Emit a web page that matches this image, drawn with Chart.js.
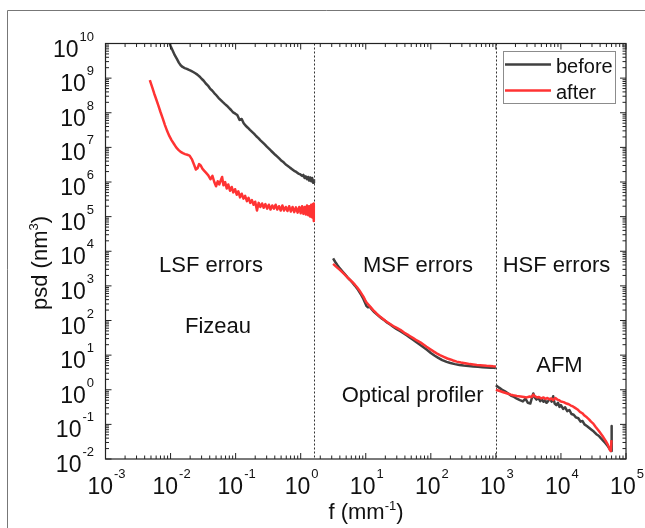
<!DOCTYPE html>
<html>
<head>
<meta charset="utf-8">
<script src="https://cdn.jsdelivr.net/npm/chart.js@4/dist/chart.umd.min.js"></script>
<style>
  html, body { margin: 0; padding: 0; background: #ffffff; }
  canvas { display: block; }
</style>
</head>
<body>
<canvas id="psd" width="645" height="528"></canvas>
<script>
// Decade exponents shown on each axis
const xTickPowers = [-3, -2, -1, 0, 1, 2, 3, 4, 5];
const yTickPowers = [-2, -1, 0, 1, 2, 3, 4, 5, 6, 7, 8, 9, 10];

// Instrument band boundaries (mm^-1)
const bandEdges = [1.6, 1000];

const seriesLabels = ['before', 'after'];

// Fizeau range (LSF)
const beforeLsfF = [0.0094, 0.0100, 0.0108, 0.0116, 0.0125, 0.0134, 0.0143, 0.0153, 0.0165, 0.0178,
  0.0192, 0.0207, 0.0223, 0.0240, 0.0258, 0.0278, 0.0300, 0.0323, 0.0348, 0.0375,
  0.0404, 0.0435, 0.0469, 0.0505, 0.0544, 0.0586, 0.0631, 0.0680, 0.0733, 0.0790,
  0.0851, 0.0917, 0.0988, 0.106, 0.115, 0.124, 0.133, 0.143, 0.154, 0.166,
  0.179, 0.193, 0.208, 0.224, 0.241, 0.260, 0.280, 0.302, 0.325, 0.350,
  0.377, 0.406, 0.437, 0.471, 0.508, 0.547, 0.589, 0.635, 0.684, 0.737,
  0.794, 0.855, 0.92, 0.99, 1.05, 1.1, 1.15, 1.2, 1.25, 1.3,
  1.35, 1.4, 1.45, 1.5, 1.55, 1.6];
const beforeLsfPsd = [1.2e10, 8.5e9, 6.2e9, 4.6e9, 3.6e9, 2.8e9, 2.35e9, 2.1e9, 1.95e9, 1.85e9,
  1.72e9, 1.62e9, 1.5e9, 1.38e9, 1.26e9, 1.12e9, 9.6e8, 8.4e8, 7.0e8, 6.1e8,
  5.0e8, 4.4e8, 3.7e8, 3.2e8, 2.7e8, 2.35e8, 2.05e8, 1.8e8, 1.6e8, 1.38e8,
  1.2e8, 1.02e8, 9.4e7, 8.6e7, 6.2e7, 6.6e7, 5.0e7, 4.2e7, 3.7e7, 3.2e7,
  2.8e7, 2.45e7, 2.1e7, 1.85e7, 1.6e7, 1.4e7, 1.22e7, 1.05e7, 9.2e6, 8.0e6,
  7.0e6, 6.1e6, 5.4e6, 4.7e6, 4.1e6, 3.7e6, 3.2e6, 2.9e6, 2.6e6, 2.35e6,
  2.1e6, 1.95e6, 1.75e6, 1.65e6, 1.5e6, 1.6e6, 1.3e6, 1.45e6, 1.2e6, 1.4e6,
  1.1e6, 1.35e6, 1.05e6, 1.3e6, 9.5e5, 1.2e6];

const afterLsfF = [0.0048, 0.0052, 0.0056, 0.0060, 0.0065, 0.0070, 0.0076, 0.0082, 0.0089, 0.0096,
  0.0104, 0.0113, 0.0122, 0.0132, 0.0143, 0.0155, 0.0167, 0.0181, 0.0196, 0.0212,
  0.0229, 0.0245, 0.026, 0.0275, 0.029, 0.031, 0.033, 0.0355, 0.038, 0.041,
  0.044, 0.047, 0.05, 0.053, 0.056, 0.059, 0.062, 0.065, 0.069, 0.073,
  0.077, 0.082, 0.087, 0.092, 0.098, 0.104, 0.11, 0.117, 0.124, 0.132,
  0.14, 0.149, 0.158, 0.168, 0.178, 0.189, 0.2, 0.213, 0.226, 0.24,
  0.255, 0.27, 0.287, 0.305, 0.324, 0.344, 0.365, 0.388, 0.412, 0.437,
  0.464, 0.493, 0.523, 0.555, 0.59, 0.626, 0.665, 0.706, 0.75, 0.796,
  0.845, 0.897, 0.95, 1.0, 1.05, 1.1, 1.15, 1.2, 1.25, 1.3,
  1.35, 1.4, 1.45, 1.5, 1.55, 1.58, 1.6];
const afterLsfPsd = [8.8e8, 5.6e8, 3.6e8, 2.5e8, 1.6e8, 1.05e8, 6.8e7, 4.4e7, 2.9e7, 2.1e7,
  1.6e7, 1.25e7, 1.0e7, 8.5e6, 7.4e6, 6.8e6, 6.4e6, 6.1e6, 5.8e6, 4.6e6,
  3.2e6, 2.3e6, 2.5e6, 3.3e6, 3.0e6, 2.4e6, 2.1e6, 1.8e6, 1.55e6, 1.2e6,
  1.5e6, 1.0e6, 7.5e5, 1.05e6, 8.5e5, 1.1e6, 1.4e6, 8e5, 1.0e6, 6.5e5,
  8.5e5, 5.6e5, 7.2e5, 5e5, 6.2e5, 4.3e5, 5.4e5, 3.6e5, 4.6e5, 3.3e5,
  4.0e5, 2.8e5, 3.5e5, 2.5e5, 3.0e5, 2.2e5, 2.7e5, 1.5e5, 2.5e5, 1.9e5,
  2.4e5, 1.8e5, 2.3e5, 1.7e5, 2.2e5, 1.6e5, 2.1e5, 1.7e5, 2.2e5, 1.6e5,
  2.0e5, 1.5e5, 2.1e5, 1.5e5, 1.9e5, 1.45e5, 2.0e5, 1.4e5, 1.9e5, 1.35e5,
  1.85e5, 1.3e5, 1.9e5, 1.25e5, 2.0e5, 1.2e5, 1.9e5, 1.15e5, 2.1e5, 1.1e5,
  2.0e5, 1.0e5, 2.2e5, 9.5e4, 2.3e5, 2.4e5, 7.5e4];

// Optical profiler range (MSF)
const beforeMsfF = [3.15, 3.4, 3.7, 4.0, 4.4, 4.8, 5.2, 5.7, 6.2, 6.8,
  7.4, 8.0, 8.6, 9.2, 9.8, 10.3, 10.8, 11.5, 12.4, 13.5,
  14.8, 16.2, 17.8, 19.5, 21.5, 24, 27, 30, 34, 38,
  43, 48, 54, 61, 69, 78, 88, 100, 115, 130,
  150, 175, 200, 235, 275, 320, 380, 450, 530, 620,
  720, 830, 920, 1000];
const beforeMsfPsd = [6.2e3, 4.9e3, 3.9e3, 3.2e3, 2.6e3, 2.15e3, 1.8e3, 1.5e3, 1.25e3, 1.02e3,
  8.3e2, 6.6e2, 5.3e2, 4.2e2, 3.2e2, 2.6e2, 2.4e2, 2.5e2, 2.1e2, 1.75e2,
  1.5e2, 1.3e2, 1.12e2, 1.0e2, 86, 75, 64, 56, 49, 43,
  37, 32, 27.5, 23, 19.5, 16.5, 14, 11.5, 9.6, 8.3,
  7.2, 6.4, 5.9, 5.5, 5.2, 5.0, 4.85, 4.7, 4.6, 4.5,
  4.4, 4.35, 4.3, 4.25];

const afterMsfF = [3.15, 3.5, 4.0, 4.6, 5.1, 5.6, 6.2, 6.8, 7.4, 8.0,
  8.6, 9.2, 9.8, 10.3, 11.5, 13, 14.5, 16.5, 18.5, 20,
  22.5, 25, 28, 31, 34, 37, 40, 46, 53.7, 61,
  70, 78, 86, 97, 110, 123, 138, 158, 180, 200,
  221, 250, 290, 320, 356, 400, 450, 510, 569, 640,
  720, 810, 912, 1000];
const afterMsfPsd = [4.3e3, 3.6e3, 2.9e3, 2.25e3, 1.85e3, 1.55e3, 1.3e3, 1.08e3, 9.0e2, 7.4e2,
  6.0e2, 4.9e2, 3.9e2, 3.3e2, 2.6e2, 2.0e2, 1.62e2, 1.3e2, 1.1e2, 98,
  85, 74, 65, 59, 54, 48, 43, 37, 31, 26.5,
  23, 20, 17.5, 15, 12.8, 11.2, 10, 8.9, 8.0, 7.5,
  7.0, 6.5, 6.1, 5.9, 5.7, 5.5, 5.35, 5.2, 5.1, 5.0,
  4.9, 4.85, 4.75, 4.7];

// AFM range (HSF)
const beforeHsfF = [1000, 1120, 1250, 1400, 1550, 1700, 1900, 2100, 2340, 2600,
  2850, 3100, 3380, 3550, 3760, 3950, 4200, 4500, 4800, 5100,
  5400, 5700, 6000, 6400, 6800, 7200, 7600, 8000, 8500, 9000,
  9500, 10000, 10800, 11600, 12500, 13500, 14500, 15700, 17000, 18500,
  20000, 21500, 23000, 25000, 27000, 29500, 32000, 35000, 38000, 41000,
  44500, 48000, 52000, 56600, 59000, 60000, 60400];
const beforeHsfPsd = [1.35, 1.15, 1.0, 0.88, 0.78, 0.68, 0.62, 0.55, 0.5, 0.46,
  0.55, 0.42, 0.4, 0.55, 0.78, 0.6, 0.52, 0.58, 0.47, 0.52,
  0.45, 0.5, 0.42, 0.48, 0.55, 0.45, 0.65, 0.4, 0.36, 0.42,
  0.32, 0.36, 0.28, 0.31, 0.24, 0.26, 0.2, 0.19, 0.16, 0.15,
  0.12, 0.125, 0.1, 0.09, 0.08, 0.07, 0.062, 0.052, 0.047, 0.04,
  0.034, 0.029, 0.024, 0.019, 0.017, 0.09, 0.05];

const afterHsfF = [1000, 1150, 1300, 1500, 1700, 1850, 2100, 2400, 2700, 3000,
  3300, 3550, 3760, 4000, 4300, 4600, 5000, 5400, 5800, 6200,
  6700, 7200, 7600, 8200, 8800, 9400, 10000, 11000, 12200, 13200,
  14200, 15300, 16500, 18000, 19600, 21300, 23000, 25000, 27000, 29000,
  31400, 34000, 37000, 40500, 44700, 48500, 52500, 56600, 58500, 59800];
const afterHsfPsd = [1.0, 0.92, 0.85, 0.78, 0.72, 0.69, 0.66, 0.64, 0.62, 0.6,
  0.64, 0.62, 0.72, 0.64, 0.6, 0.62, 0.56, 0.6, 0.54, 0.58,
  0.52, 0.56, 0.5, 0.58, 0.52, 0.5, 0.46, 0.44, 0.4, 0.38,
  0.35, 0.33, 0.3, 0.27, 0.23, 0.21, 0.18, 0.16, 0.14, 0.12,
  0.105, 0.085, 0.07, 0.056, 0.043, 0.034, 0.026, 0.018, 0.017, 0.035];

// Region captions, placed in data coordinates (centre x, baseline y)
const captions = [
  { text: 'LSF errors', f: 0.0418, psd: 2.5e3 },
  { text: 'Fizeau', f: 0.0536, psd: 43 },
  { text: 'MSF errors', f: 63.5, psd: 2.5e3 },
  { text: 'HSF errors', f: 8530, psd: 2.5e3 },
  { text: 'AFM', f: 9490, psd: 3.27 },
  { text: 'Optical profiler', f: 52.6, psd: 0.445 }
];

function toPoints(segments) {
  const pts = [];
  segments.forEach(([fs, ps], i) => {
    if (i > 0) pts.push({ x: fs[0], y: null });
    fs.forEach((f, k) => pts.push({ x: f, y: ps[k] }));
  });
  return pts;
}

const FONT = '"Liberation Sans", Arial, Helvetica, sans-serif';
const INK = '#222222';

function powerLabel(ctx, exp, anchorX, baseY, align) {
  ctx.font = '23px ' + FONT;
  const w10 = ctx.measureText('10').width;
  ctx.font = '13px ' + FONT;
  const wExp = ctx.measureText(String(exp)).width;
  const total = w10 + 1 + wExp;
  const left = align === 'center' ? anchorX - total / 2 : anchorX - total;
  ctx.textAlign = 'left';
  ctx.textBaseline = 'alphabetic';
  ctx.font = '23px ' + FONT;
  ctx.fillText('10', left, baseY);
  ctx.font = '13px ' + FONT;
  ctx.fillText(String(exp), left + w10 + 1, baseY - 16);
}

function textWithSup(ctx, parts, x, y) {
  // parts: [text, size, raise]
  let total = 0;
  parts.forEach(p => { ctx.font = p[1] + 'px ' + FONT; total += ctx.measureText(p[0]).width; });
  let cx = x - total / 2;
  ctx.textAlign = 'left';
  ctx.textBaseline = 'alphabetic';
  parts.forEach(p => {
    ctx.font = p[1] + 'px ' + FONT;
    ctx.fillText(p[0], cx, y - p[2]);
    cx += ctx.measureText(p[0]).width;
  });
}

const decorations = {
  id: 'decorations',
  beforeDatasetsDraw(chart) {
    const { ctx, chartArea: a, scales: { x } } = chart;
    ctx.save();
    ctx.strokeStyle = '#333333';
    ctx.lineWidth = 1;
    ctx.setLineDash([2, 2]);
    bandEdges.forEach(f => {
      const px = Math.round(x.getPixelForValue(f)) + 0.5;
      ctx.beginPath();
      ctx.moveTo(px, a.top);
      ctx.lineTo(px, a.bottom);
      ctx.stroke();
    });
    ctx.restore();
  },
  afterDraw(chart) {
    const { ctx, chartArea: a, scales: { x, y } } = chart;
    ctx.save();

    // outer panel border
    ctx.strokeStyle = '#777777';
    ctx.lineWidth = 1;
    ctx.beginPath();
    ctx.moveTo(7.5, 528);
    ctx.lineTo(7.5, 10.5);
    ctx.lineTo(645, 10.5);
    ctx.stroke();

    // axes box
    ctx.strokeStyle = INK;
    ctx.lineWidth = 1.2;
    ctx.strokeRect(a.left, a.top, a.right - a.left, a.bottom - a.top);

    // inward log ticks on all four sides
    const major = 6, minor = 3.5;
    ctx.lineWidth = 1;
    ctx.beginPath();
    xTickPowers.forEach(p => {
      for (let k = 1; k <= 9; k++) {
        const v = k * Math.pow(10, p);
        if (v > x.max * 1.0001) break;
        const px = x.getPixelForValue(v);
        const len = k === 1 ? major : minor;
        ctx.moveTo(px, a.bottom); ctx.lineTo(px, a.bottom - len);
        ctx.moveTo(px, a.top); ctx.lineTo(px, a.top + len);
      }
    });
    yTickPowers.forEach(p => {
      for (let k = 1; k <= 9; k++) {
        const v = k * Math.pow(10, p);
        if (v > y.max * 1.0001) break;
        const py = y.getPixelForValue(v);
        const len = k === 1 ? major : minor;
        ctx.moveTo(a.left, py); ctx.lineTo(a.left + len, py);
        ctx.moveTo(a.right, py); ctx.lineTo(a.right - len, py);
      }
    });
    ctx.stroke();

    // tick labels
    ctx.fillStyle = '#111111';
    xTickPowers.forEach(p => {
      powerLabel(ctx, p, x.getPixelForValue(Math.pow(10, p)) + 1, a.bottom + 35, 'center');
    });
    yTickPowers.forEach(p => {
      const py = y.getPixelForValue(Math.pow(10, p));
      powerLabel(ctx, p, 94, py + 13, 'right');
    });

    // axis titles
    textWithSup(ctx, [['f (mm', 22, 0], ['-1', 13, 9], [')', 22, 0]], 366, 519);
    ctx.save();
    ctx.translate(47, 263);
    ctx.rotate(-Math.PI / 2);
    textWithSup(ctx, [['psd (nm', 22, 0], ['3', 13, 9], [')', 22, 0]], 0, 0);
    ctx.restore();

    // region captions
    ctx.font = '22px ' + FONT;
    ctx.textAlign = 'center';
    ctx.textBaseline = 'alphabetic';
    captions.forEach(c => {
      ctx.fillText(c.text, x.getPixelForValue(c.f), y.getPixelForValue(c.psd));
    });

    // legend
    const lx = 503.5, ly = 51.5, lw = 112, lh = 52;
    ctx.fillStyle = '#ffffff';
    ctx.fillRect(lx, ly, lw, lh);
    ctx.strokeStyle = '#8c8c8c';
    ctx.lineWidth = 1;
    ctx.strokeRect(lx, ly, lw, lh);
    chart.data.datasets.forEach((ds, i) => {
      const ry = 64.5 + i * 26;
      ctx.strokeStyle = ds.borderColor;
      ctx.lineWidth = 2.5;
      ctx.beginPath();
      ctx.moveTo(505, ry);
      ctx.lineTo(551, ry);
      ctx.stroke();
      ctx.fillStyle = '#111111';
      ctx.font = '20px ' + FONT;
      ctx.textAlign = 'left';
      ctx.fillText(ds.label, 556, ry + 8.5);
    });

    ctx.restore();
  }
};

const hiddenAxisParts = {
  grid: { display: false, drawTicks: false, tickLength: 0 },
  ticks: { display: false },
  border: { display: false }
};

new Chart(document.getElementById('psd'), {
  type: 'line',
  data: {
    datasets: [
      {
        label: seriesLabels[0],
        data: toPoints([[beforeLsfF, beforeLsfPsd], [beforeMsfF, beforeMsfPsd], [beforeHsfF, beforeHsfPsd]]),
        borderColor: '#404040',
        backgroundColor: '#404040',
        borderWidth: 2.5,
        order: 2
      },
      {
        label: seriesLabels[1],
        data: toPoints([[afterLsfF, afterLsfPsd], [afterMsfF, afterMsfPsd], [afterHsfF, afterHsfPsd]]),
        borderColor: '#ff3333',
        backgroundColor: '#ff3333',
        borderWidth: 2.5,
        order: 1
      }
    ]
  },
  options: {
    responsive: false,
    animation: false,
    devicePixelRatio: 1,
    spanGaps: false,
    elements: {
      point: { radius: 0, hoverRadius: 0 },
      line: { tension: 0, borderJoinStyle: 'round' }
    },
    layout: { autoPadding: false, padding: { left: 105.5, top: 43.5, right: 19, bottom: 69 } },
    scales: {
      x: Object.assign({ type: 'logarithmic', min: 1e-3, max: 1e5 }, hiddenAxisParts),
      y: Object.assign({ type: 'logarithmic', min: 1e-2, max: 1e10 }, hiddenAxisParts)
    },
    plugins: {
      legend: { display: false },
      tooltip: { enabled: false }
    }
  },
  plugins: [decorations]
});
</script>
</body>
</html>
